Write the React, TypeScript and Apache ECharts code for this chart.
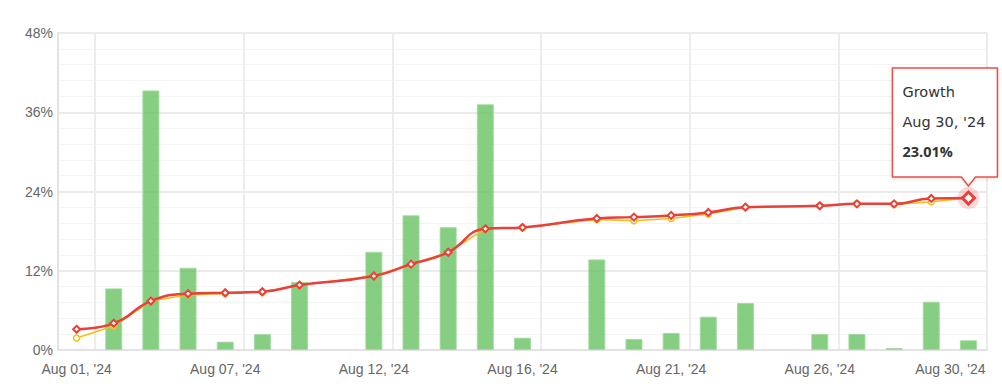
import React, { useEffect, useRef } from "react";
import * as echarts from "echarts";

const categories = [
  "Aug 01, '24", "Aug 02, '24", "Aug 05, '24", "Aug 06, '24", "Aug 07, '24",
  "Aug 08, '24", "Aug 09, '24", "Aug 11, '24", "Aug 12, '24", "Aug 13, '24",
  "Aug 14, '24", "Aug 15, '24", "Aug 16, '24", "Aug 18, '24", "Aug 19, '24",
  "Aug 20, '24", "Aug 21, '24", "Aug 22, '24", "Aug 23, '24", "Aug 25, '24",
  "Aug 26, '24", "Aug 27, '24", "Aug 28, '24", "Aug 29, '24", "Aug 30, '24",
];

const barValues = [
  null, 9.33, 39.3, 12.45, 1.26, 2.4, 10.3, null, 14.87, 20.4,
  18.6, 37.2, 1.86, null, 13.72, 1.66, 2.57, 5.04, 7.11, null,
  2.42, 2.42, 0.3, 7.31, 1.47,
];

const growthValues = [
  3.13, 4.04, 7.41, 8.52, 8.67, 8.82, 9.83, null, 11.2, 13.0,
  14.8, 18.35, 18.56, null, 19.92, 20.12, 20.38, 20.83, 21.63, null,
  21.83, 22.13, 22.13, 22.95, 23.01,
];

const equityValues = [
  1.82, 3.63, 7.41, 8.37, 8.55, 8.8, 9.8, null, 11.2, 13.0,
  14.8, 18.35, 18.56, null, 19.77, 19.56, 19.92, 20.6, 21.63, null,
  21.83, 22.13, 22.05, 22.44, 23.0,
];

const yTicks = [0, 12, 24, 36, 48];

const RED = "#e8403a";
const YELLOW = "#f7be16";
const AXIS_FONT = "'Liberation Sans', Arial, sans-serif";
const TIP_FONT = "'DejaVu Sans', Verdana, sans-serif";
const TIP_BOLD_FONT = "'Open Sans', 'Noto Sans', sans-serif";

export default function App() {
  const ref = useRef<HTMLDivElement>(null);

  useEffect(() => {
    if (!ref.current) return;
    const chart = echarts.init(ref.current, undefined, { renderer: "svg" });
    const lastIdx = categories.length - 1;

    chart.setOption({
      animation: false,
      grid: {
        left: 58,
        right: 15,
        top: 33,
        bottom: 39,
        show: true,
        borderColor: "#e6e6e6",
        borderWidth: 1,
      },
      xAxis: {
        type: "category",
        data: categories,
        boundaryGap: true,
        axisLine: { show: true, lineStyle: { color: "#e3e3e3", width: 2 } },
        axisTick: { show: false },
        axisLabel: {
          interval: 3,
          color: "#666666",
          fontSize: 14,
          fontFamily: AXIS_FONT,
          margin: 12,
          formatter: (val: string, idx: number) =>
            idx === lastIdx ? `{last|${val}}` : val,
          rich: {
            last: {
              color: "#666666",
              fontSize: 14,
              fontFamily: AXIS_FONT,
              padding: [0, 36, 0, 0],
            },
          },
        },
        splitLine: {
          show: true,
          interval: (index: number) => index % 4 === 1,
          lineStyle: { color: "#ececec", width: 2 },
        },
      },
      yAxis: {
        type: "value",
        min: yTicks[0],
        max: yTicks[yTicks.length - 1],
        interval: 12,
        axisLine: { show: true, lineStyle: { color: "#e3e3e3", width: 2 } },
        axisTick: { show: false },
        axisLabel: {
          color: "#666666",
          fontSize: 14,
          fontFamily: AXIS_FONT,
          margin: 5,
          formatter: (v: number) => `${v}%`,
        },
        splitLine: { show: true, lineStyle: { color: "#ebebeb", width: 2 } },
        minorTick: { show: false, splitNumber: 5 },
        minorSplitLine: { show: true, lineStyle: { color: "#f4f4f4", width: 1 } },
      },
      series: [
        {
          name: "Daily",
          type: "bar",
          data: barValues,
          barWidth: 17,
          itemStyle: {
            color: "rgba(104,194,99,0.8)",
            borderColor: "rgba(160,220,156,0.9)",
            borderWidth: 1,
          },
          z: 2,
        },
        {
          name: "Equity",
          type: "line",
          data: equityValues,
          connectNulls: true,
          smooth: false,
          symbol: "circle",
          symbolSize: 6,
          lineStyle: { color: YELLOW, width: 1.5 },
          itemStyle: { color: "#ffffff", borderColor: YELLOW, borderWidth: 1.5 },
          z: 3,
        },
        {
          name: "Halo",
          type: "scatter",
          data: categories.map((_, i) => (i === lastIdx ? growthValues[i] : null)),
          symbol: "circle",
          symbolSize: 22,
          itemStyle: { color: "rgba(232,64,58,0.25)" },
          z: 4,
        },
        {
          name: "Growth",
          type: "line",
          data: growthValues.map((v, i) =>
            i === lastIdx
              ? { value: v, symbolSize: 12, itemStyle: { borderWidth: 3 } }
              : v
          ),
          connectNulls: true,
          smooth: true,
          symbol: "diamond",
          symbolSize: 7,
          lineStyle: { color: RED, width: 2.5 },
          itemStyle: { color: "#ffffff", borderColor: RED, borderWidth: 2 },
          z: 5,
        },
      ],
    });

    const p = chart.convertToPixel({ xAxisIndex: 0, yAxisIndex: 0 }, [
      lastIdx,
      growthValues[lastIdx] as number,
    ]) as number[];
    const boxW = 105;
    const boxH = 109;
    const tipX = p[0];
    const tipY = p[1] - 12;
    const left = tipX - 76;
    const top = tipY - 9 - boxH;
    const bottom = top + boxH;
    chart.setOption({
      graphic: [
        {
          type: "group",
          z: 100,
          children: [
            {
              type: "polygon",
              shape: {
                points: [
                  [left, top],
                  [left + boxW, top],
                  [left + boxW, bottom],
                  [tipX + 7, bottom],
                  [tipX, tipY],
                  [tipX - 7, bottom],
                  [left, bottom],
                ],
              },
              style: {
                fill: "#ffffff",
                stroke: "#e8504c",
                lineWidth: 1.5,
                shadowBlur: 4,
                shadowColor: "rgba(0,0,0,0.12)",
                shadowOffsetY: 1,
              },
            },
            {
              type: "text",
              x: left + 10,
              y: top + 24,
              style: {
                text: "Growth",
                fill: "#333333",
                font: `14.5px ${TIP_FONT}`,
                verticalAlign: "middle",
              },
            },
            {
              type: "text",
              x: left + 10,
              y: top + 54,
              style: {
                text: categories[lastIdx],
                fill: "#333333",
                font: `14.5px ${TIP_FONT}`,
                verticalAlign: "middle",
              },
            },
            {
              type: "text",
              x: left + 10,
              y: top + 83,
              style: {
                text: `${(growthValues[lastIdx] as number).toFixed(2)}%`,
                fill: "#333333",
                font: `bold 14.5px ${TIP_BOLD_FONT}`,
                verticalAlign: "middle",
              },
            },
          ],
        },
      ],
    });

    return () => chart.dispose();
  }, []);

  return (
    <div
      ref={ref}
      style={{ position: "fixed", left: 0, top: 0, width: 1002, height: 389, background: "#ffffff" }}
    />
  );
}
